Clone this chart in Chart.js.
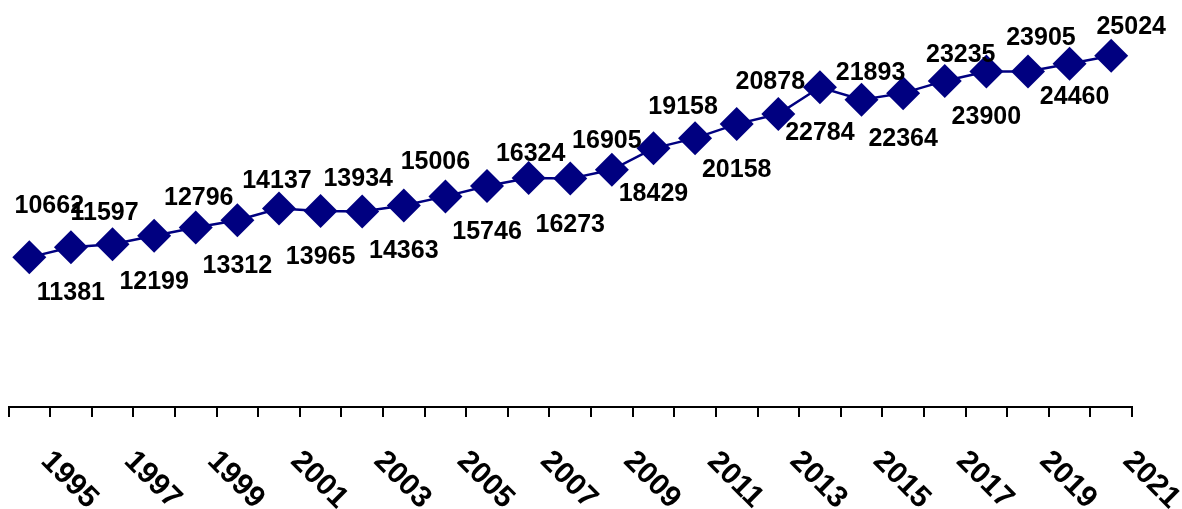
<!DOCTYPE html>
<html>
<head>
<meta charset="utf-8">
<script src="https://cdn.jsdelivr.net/npm/chart.js@4"></script>
<style>
  body { margin: 0; background: #fff; }
</style>
</head>
<body>
<canvas id="myChart" width="1182" height="509"></canvas>
<script>
const years = ['1995', '1996', '1997', '1998', '1999', '2000', '2001', '2002', '2003',
  '2004', '2005', '2006', '2007', '2008', '2009', '2010', '2011', '2012', '2013',
  '2014', '2015', '2016', '2017', '2018', '2019', '2020', '2021'];
const values = [10662, 11381, 11597, 12199, 12796, 13312, 14137, 13965, 13934,
  14363, 15006, 15746, 16324, 16273, 16905, 18429, 19158, 20158, 20878,
  22784, 21893, 22364, 23235, 23900, 23905, 24460, 25024];
const tickLabels = ['1995', '1997', '1999', '2001', '2003', '2005', '2007',
  '2009', '2011', '2013', '2015', '2017', '2019', '2021'];

// small hand nudges for the value labels (dx, dy), like the original
const labelNudge = {
  0: [20, -20], 2: [-8, 0], 4: [3, 2], 6: [-2, 4], 8: [-4, -1], 10: [-10, -3],
  12: [2, 7], 14: [-5, 2], 16: [-12, 0], 18: [-8, -1], 20: [9, 4],
  22: [16, 5], 24: [13, -2], 25: [5, -13], 26: [20, 2],
};

const FONT = '"Liberation Sans", Arial, sans-serif';

const pointLabels = {
  id: 'pointLabels',
  afterDatasetsDraw(chart) {
    const ctx = chart.ctx;
    const meta = chart.getDatasetMeta(0);
    ctx.save();
    ctx.font = 'bold 25px ' + FONT;
    ctx.fillStyle = '#000';
    ctx.textAlign = 'center';
    ctx.textBaseline = 'middle';
    meta.data.forEach((pt, i) => {
      const nudge = labelNudge[i] || [0, 0];
      const dy = i % 2 === 0 ? -31 : 46;
      ctx.fillText(String(values[i]), pt.x + nudge[0], pt.y + dy + nudge[1]);
    });
    ctx.restore();
  },
};

const yearLabels = {
  id: 'yearLabels',
  afterDraw(chart) {
    const ctx = chart.ctx;
    const xScale = chart.scales.x;
    ctx.save();
    ctx.font = 'bold 30px ' + FONT;
    ctx.fillStyle = '#000';
    ctx.textAlign = 'center';
    ctx.textBaseline = 'middle';
    years.forEach((yr, i) => {
      if (!tickLabels.includes(yr)) return;
      const x = xScale.getPixelForValue(i) + 40;
      ctx.save();
      ctx.translate(x, xScale.top + 73);
      ctx.rotate(Math.PI / 4);
      ctx.fillText(yr, 0, 0);
      ctx.restore();
    });
    ctx.restore();
  },
};

{
  const ctx = document.getElementById('myChart').getContext('2d');

  // eslint-disable-next-line
  const chart = new Chart(ctx, {
    type: 'line',
    data: {
      labels: years,
      datasets: [
        {
          data: values,
          borderColor: '#000080',
          backgroundColor: '#000080',
          borderWidth: 2.5,
          tension: 0,
          pointStyle: 'rectRot',
          pointRadius: 17,
          pointHoverRadius: 17,
          pointBorderWidth: 0,
          pointBackgroundColor: '#000080',
        },
      ],
    },
    options: {
      responsive: false,
      animation: false,
      devicePixelRatio: 1,
      layout: { autoPadding: false, padding: { left: 8.5, right: 50, top: 0, bottom: 0 } },
      plugins: {
        legend: { display: false },
        tooltip: { enabled: false },
      },
      scales: {
        x: {
          offset: true,
          grid: {
            offset: true,
            drawOnChartArea: false,
            drawTicks: true,
            tickLength: 10,
            color: '#000',
            lineWidth: 2,
          },
          border: { display: true, color: '#000', width: 2 },
          ticks: { display: false },
          afterFit(scale) {
            scale.height = 102;
          },
        },
        y: {
          display: false,
          min: 0,
          max: 29000,
        },
      },
    },
    plugins: [pointLabels, yearLabels],
  });
}
</script>
</body>
</html>
